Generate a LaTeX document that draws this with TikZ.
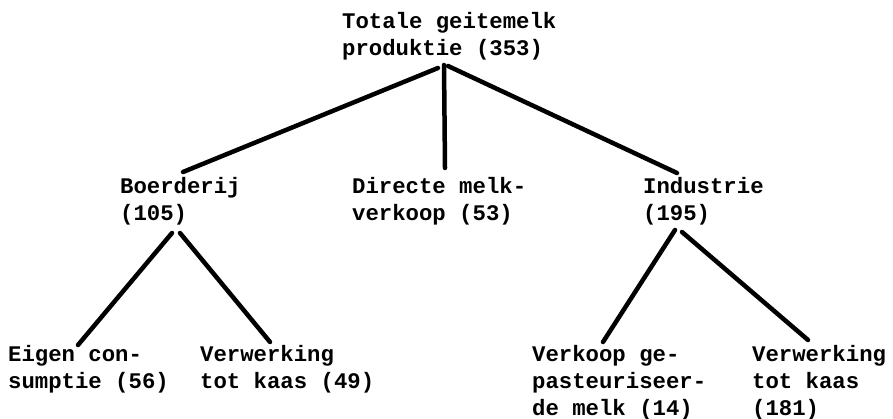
\documentclass[tikz,border=0pt]{standalone}
\usepackage{fontspec}
\setmonofont{Liberation Mono}
\usetikzlibrary{calc}
\tikzset{
  label/.style={anchor=base west, align=left, inner sep=0pt,
    font=\ttfamily\bfseries\fontsize{22.3}{27}\selectfont},
  branch/.style={line width=4.5pt, line cap=round}
}
\begin{document}
\begin{tikzpicture}[x=1pt, y=-1pt]
  \useasboundingbox (0,0) rectangle (893,419);
  % labels, placed by the baseline of their last line
  \node[label] (root)    at (342,56)  {Totale geitemelk\\produktie (353)};
  \node[label] (farm)    at (120,221) {Boerderij\\(105)};
  \node[label] (direct)  at (352,221) {Directe melk-\\verkoop (53)};
  \node[label] (ind)     at (643,221) {Industrie\\(195)};
  \node[label] (own)     at (8,388)   {Eigen con-\\sumptie (56)};
  \node[label] (cheesea) at (200,388) {Verwerking\\tot kaas (49)};
  \node[label] (past)    at (532,415) {Verkoop ge-\\pasteuriseer-\\de melk (14)};
  \node[label] (cheeseb) at (752,415) {Verwerking\\tot kaas\\(181)};
  % attachment points of the branches
  \coordinate (root-l) at ($(root.base west)+(96,12)$);
  \coordinate (root-m) at ($(root.base west)+(102,9)$);
  \coordinate (root-r) at ($(root.base west)+(106,10)$);
  \coordinate (farm-top) at ($(farm.base west)+(63,-49)$);
  \coordinate (farm-l) at ($(farm.base west)+(52,12)$);
  \coordinate (farm-r) at ($(farm.base west)+(60,12)$);
  \coordinate (direct-top) at ($(direct.base west)+(93,-53)$);
  \coordinate (ind-top) at ($(ind.base west)+(34,-48)$);
  \coordinate (ind-l) at ($(ind.base west)+(32,9)$);
  \coordinate (ind-r) at ($(ind.base west)+(39,11)$);
  \coordinate (own-top) at ($(own.base west)+(70,-43)$);
  \coordinate (cheesea-top) at ($(cheesea.base west)+(70,-46)$);
  \coordinate (past-top) at ($(past.base west)+(71,-73)$);
  \coordinate (cheeseb-top) at ($(cheeseb.base west)+(56,-75)$);
  % branches
  \draw[branch] (root-l) -- (farm-top);
  \draw[branch] (root-m) -- (direct-top);
  \draw[branch] (root-r) -- (ind-top);
  \draw[branch] (farm-l) -- (own-top);
  \draw[branch] (farm-r) -- (cheesea-top);
  \draw[branch] (ind-l) -- (past-top);
  \draw[branch] (ind-r) -- (cheeseb-top);
\end{tikzpicture}
\end{document}
